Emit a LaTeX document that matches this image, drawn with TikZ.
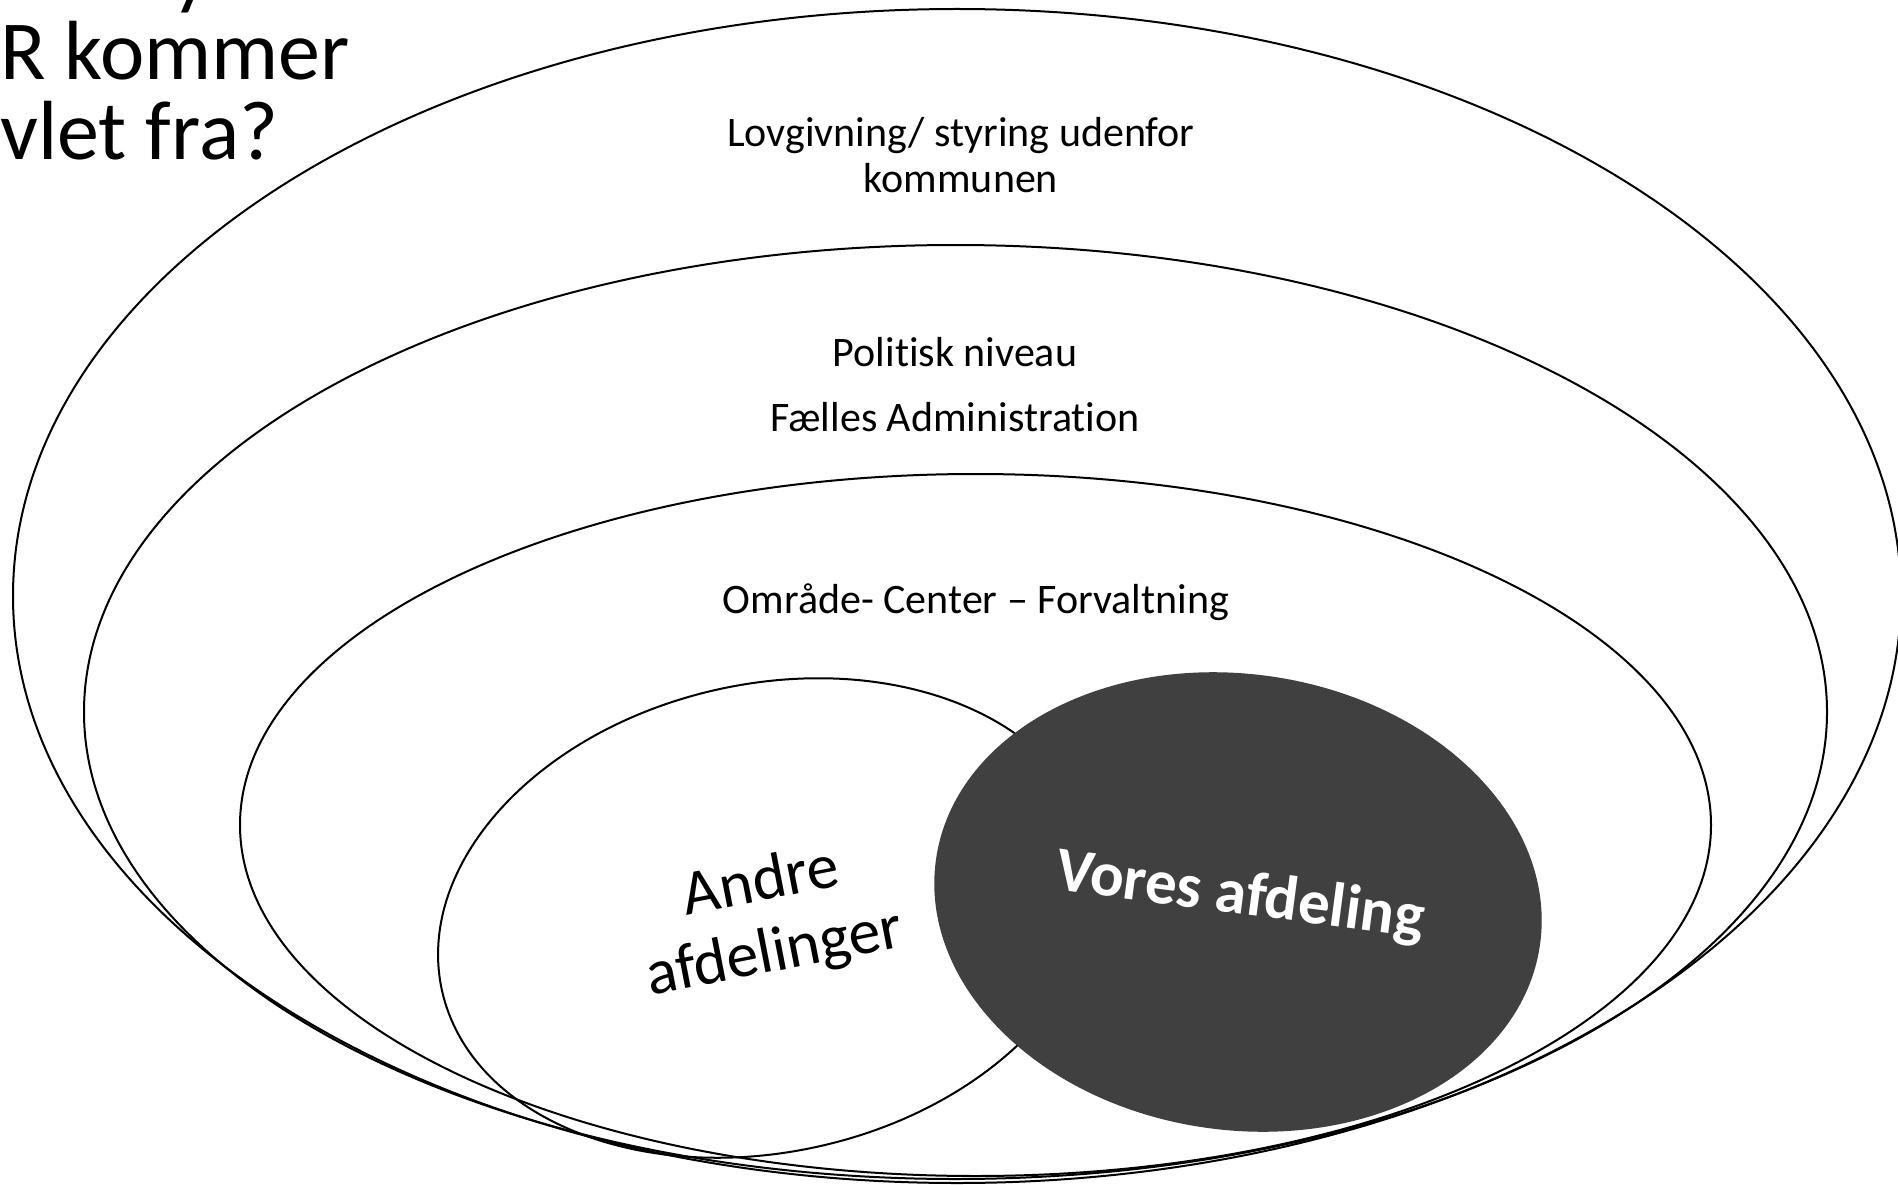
\documentclass[tikz,border=0pt]{standalone}
\usepackage{fontspec}
\setmainfont{Carlito}[Ligatures={NoCommon,NoContextual}]
\newcommand\tiNoLig{t\kern0pt i}
\definecolor{darkfill}{HTML}{404040}
\tikzset{
  ring/.style={draw=black, line width=2pt},
  lbl/.style={inner sep=0pt, align=center, font=\fontsize{42}{46}\selectfont},
  titletxt/.style={inner sep=0pt, anchor=base west, font=\fontsize{84}{80}\selectfont},
  bigtxt/.style={inner sep=0pt, align=center, font=\fontsize{64}{72}\selectfont}
}
\begin{document}
\begin{tikzpicture}[x=1pt,y=-1pt]
\useasboundingbox (0,0) rectangle (1898,1185);
\clip (0,0) rectangle (1898,1185);
\fill[white] (0,0) rectangle (1898,1185);
% rings
\draw[ring] (957,596) ellipse [x radius=944pt, y radius=587pt];
\draw[ring] (955.5,712) ellipse [x radius=871.5pt, y radius=467pt];
\draw[ring] (975.5,825) ellipse [x radius=735.5pt, y radius=351pt];
% Andre afdelinger
\draw[ring, shift={(768,918)}, rotate=12.6] (0,0) ellipse [x radius=334pt, y radius=234pt];
% Vores afdeling
\fill[darkfill, shift={(1238,902)}, rotate=-8] (0,0) ellipse [x radius=305pt, y radius=228pt];
% labels
\node[lbl] (lov) at (961,155) {Lovgivning/ styring udenfor\\kommunen};
\node[lbl] (pol) at (955,352) {Poli\tiNoLig{}sk niveau};
\node[lbl] (fae) at (955,417) {Fælles Administra\tiNoLig{}on};
\node[lbl] (omr) at (976,602) {Område- Center – Forvaltning};
\node[bigtxt, rotate=11] (andre) at (768,919) {Andre\\afdelinger};
\node[inner sep=0pt, text=white, rotate=-7.5, font=\fontsize{63}{70}\selectfont\bfseries] (vores) at (1240,897) {Vores afdeling};
% title fragment
\node[titletxt] (t0) at (172,0) {y};
\node[titletxt] (t1) at (0,80) {R kommer};
\node[titletxt] (t2) at (0,160) {vlet fra?};
\end{tikzpicture}
\end{document}
